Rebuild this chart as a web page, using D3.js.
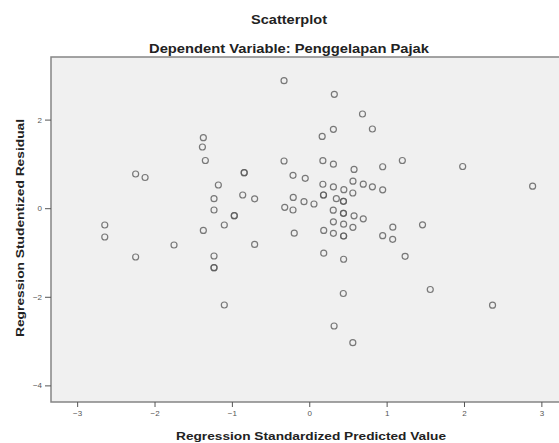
<!DOCTYPE html>
<html>
<head>
<meta charset="utf-8">
<title>Scatterplot</title>
<script src="https://d3js.org/d3.v7.min.js"></script>
<style>
  body { margin: 0; background: #fff; }
  svg { display: block; font-family: "Liberation Sans", Arial, sans-serif; }
  .title { font-size: 12px; font-weight: bold; fill: #222; }
  .axis-label { font-size: 11px; font-weight: bold; fill: #222; }
  .axis text { font-size: 8px; fill: #555; }
  .axis line { stroke: #555; }
  .axis path { display: none; }
  .dot { fill: none; stroke: #5a5a5a; stroke-width: 1.2; stroke-opacity: 0.8; }
</style>
</head>
<body>
<script>
// regression standardized predicted value (x) and studentized residual (y)
// repeated pairs are points that overlap in the original plot
const predicted = [
  -2.244, -2.122, -2.643, -2.643, -2.244, -1.748, -1.369, -1.381, -1.343, -1.175,
  -1.231, -1.231, -1.369, -1.098, -0.969, -0.969, -0.841, -0.841, -0.860, -1.231,
  -1.231, -1.231, -1.098, -0.326, 0.324, 0.688, 0.816, 0.312, 0.167, -0.326,
  0.176, 0.312, 0.579, 1.203, 0.949, -0.210, -0.052, 0.565, 0.698, 0.816,
  0.949, 0.176, 0.312, 0.447, 0.563, 0.184, 0.184, 0.350, 0.442, 0.442,
  -0.706, -0.207, -0.068, 0.061, -0.317, -0.210, 0.310, 0.442, 0.442, 0.579,
  0.698, 0.312, 0.444, 0.564, 1.080, 1.464, 0.187, 0.312, 0.444, 0.444,
  -0.194, 0.949, 1.078, -0.706, 0.187, 0.444, 1.239, 1.983, 2.887, 1.564,
  2.369, 0.440, 0.321, 0.563
];
const residual = [
  0.772, 0.693, -0.379, -0.650, -1.102, -0.831, 1.591, 1.381, 1.077, 0.524,
  0.214, -0.041, -0.503, -0.379, -0.169, -0.169, 0.801, 0.801, 0.298, -1.079,
  -1.343, -1.343, -2.185, 2.878, 2.571, 2.126, 1.788, 1.781, 1.619, 1.065,
  1.072, 0.993, 0.874, 1.077, 0.935, 0.743, 0.675, 0.609, 0.542, 0.483,
  0.415, 0.540, 0.479, 0.418, 0.343, 0.298, 0.298, 0.214, 0.156, 0.156,
  0.212, 0.242, 0.147, 0.095, 0.020, -0.041, -0.045, -0.115, -0.115, -0.172,
  -0.239, -0.307, -0.361, -0.431, -0.429, -0.375, -0.503, -0.567, -0.628, -0.628,
  -0.564, -0.621, -0.702, -0.819, -1.016, -1.153, -1.086, 0.941, 0.497, -1.835,
  -2.190, -1.926, -2.659, -3.036
];
const xTicks = [-3, -2, -1, 0, 1, 2, 3];
const yTicks = [2, 0, -2, -4];

const W = 559, H = 443;
const plot = { left: 51, top: 57, right: 571, bottom: 402 };

const svg = d3.select("body").append("svg")
  .attr("width", W)
  .attr("height", H);

// scales (domain chosen so ticks land where they sit in the picture)
const x = d3.scaleLinear().domain([-3.338, 3.383]).range([plot.left, plot.right]);
const y = d3.scaleLinear().domain([-4.375, 3.413]).range([plot.bottom, plot.top]);

// plot background and frame
svg.append("rect")
  .attr("x", plot.left)
  .attr("y", plot.top)
  .attr("width", plot.right - plot.left)
  .attr("height", plot.bottom - plot.top)
  .attr("fill", "#f0f0f0")
  .attr("stroke", "#858585")
  .attr("stroke-width", 1.5);

// axes
svg.append("g")
  .attr("class", "axis")
  .attr("transform", `translate(0,${plot.bottom})`)
  .call(d3.axisBottom(x).tickValues(xTicks).tickSize(5).tickPadding(3).tickFormat(d3.format("d")));

svg.append("g")
  .attr("class", "axis")
  .attr("transform", `translate(${plot.left},0)`)
  .call(d3.axisLeft(y).tickValues(yTicks).tickSize(6).tickPadding(3).tickFormat(d3.format("d")));

// points
svg.append("g")
  .selectAll("circle")
  .data(d3.range(predicted.length))
  .join("circle")
  .attr("class", "dot")
  .attr("cx", i => x(predicted[i]))
  .attr("cy", i => y(residual[i]))
  .attr("r", 3);

// titles (the source image is stretched, so text widths are pinned)
svg.append("text")
  .attr("class", "title")
  .attr("x", 289)
  .attr("y", 24)
  .attr("text-anchor", "middle")
  .attr("textLength", 76)
  .attr("lengthAdjust", "spacingAndGlyphs")
  .text("Scatterplot");

svg.append("text")
  .attr("class", "title")
  .attr("x", 289)
  .attr("y", 53)
  .attr("text-anchor", "middle")
  .attr("textLength", 280)
  .attr("lengthAdjust", "spacingAndGlyphs")
  .text("Dependent Variable: Penggelapan Pajak");

svg.append("text")
  .attr("class", "axis-label")
  .attr("x", 311)
  .attr("y", 440)
  .attr("text-anchor", "middle")
  .attr("textLength", 270)
  .attr("lengthAdjust", "spacingAndGlyphs")
  .text("Regression Standardized Predicted Value");

svg.append("text")
  .attr("class", "axis-label")
  .attr("transform", "translate(24,228) rotate(-90)")
  .attr("text-anchor", "middle")
  .attr("textLength", 218)
  .attr("lengthAdjust", "spacingAndGlyphs")
  .text("Regression Studentized Residual");
</script>
</body>
</html>
